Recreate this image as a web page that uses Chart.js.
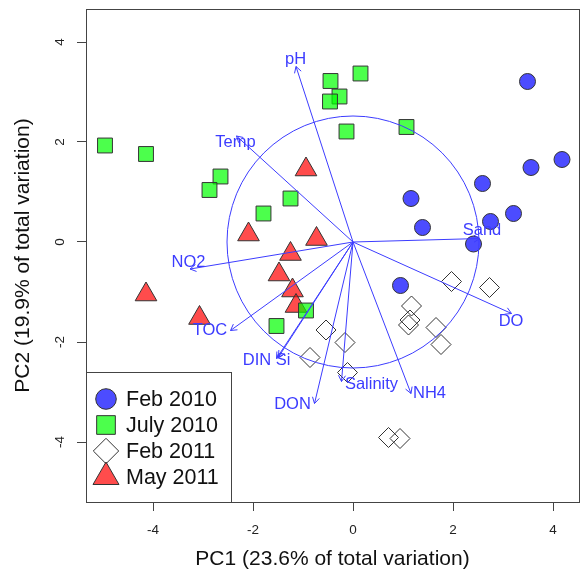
<!DOCTYPE html>
<html>
<head>
<meta charset="utf-8">
<script src="https://cdn.jsdelivr.net/npm/chart.js@4.4.0/dist/chart.umd.min.js"></script>
<style>
  body { margin: 0; background: #fff; }
</style>
</head>
<body>
<canvas id="pcaChart" width="581" height="574"></canvas>
<script>
// site scores on PC1 / PC2 for each sampling campaign
var feb2010 = [[3.49, 3.21], [4.18, 1.65], [3.56, 1.49], [2.59, 1.17], [1.16, 0.87],
               [3.21, 0.57], [2.75, 0.41], [1.39, 0.29], [2.41, -0.04], [0.95, -0.87]];
var july2010 = [[-4.96, 1.93], [-4.14, 1.76], [-0.45, 3.22], [0.15, 3.37], [-0.27, 2.91],
                [-0.46, 2.81], [-0.13, 2.21], [1.07, 2.30], [-2.65, 1.31], [-2.87, 1.04],
                [-1.25, 0.87], [-1.79, 0.57], [-0.94, -1.37], [-1.53, -1.68]];
var feb2011 = [[1.97, -0.79], [2.73, -0.91], [1.17, -1.28], [1.14, -1.56], [1.11, -1.66],
               [1.66, -1.71], [1.76, -2.05], [-0.54, -1.76], [-0.16, -2.01], [-0.86, -2.31],
               [-0.11, -2.61], [0.71, -3.91], [0.94, -3.93]];
var may2011 = [[-0.94, 1.45], [-2.09, 0.15], [-0.73, 0.06], [-1.25, -0.24], [-1.48, -0.65],
               [-1.21, -0.97], [-1.14, -1.28], [-4.14, -1.05], [-3.07, -1.52]];
var seriesNames = ['Feb 2010', 'July 2010', 'Feb 2011', 'May 2011'];

// environmental variable loadings (arrow tips) and where their names sit
var varNames = ['pH', 'Temp', 'Sand', 'NO2', 'TOC', 'DIN', 'Si', 'DON', 'Salinity', 'NH4', 'DO'];
var varTips = [[-1.14, 3.51], [-2.33, 2.12], [2.54, 0.07], [-3.26, -0.54], [-2.45, -1.77],
               [-1.53, -2.33], [-1.49, -2.30], [-0.77, -3.23], [-0.23, -2.79], [1.16, -3.03],
               [3.17, -1.43]];
var varLabelPos = [[-1.15, 3.65], [-2.35, 1.99], [2.58, 0.24], [-3.29, -0.41], [-2.86, -1.76],
                   [-1.92, -2.36], [-1.40, -2.36], [-1.21, -3.24], [0.37, -2.84], [1.53, -3.03],
                   [3.16, -1.59]];
var circleRadius = 2.52;

var tickValues = [-4, -2, 0, 2, 4];

var FONT = '"Liberation Sans", Arial, sans-serif';
var ARROW_BLUE = '#3c3cff';

function toPoints(arr) {
  return arr.map(function (p) { return { x: p[0], y: p[1] }; });
}

var styles = [
  { pointStyle: 'circle',   radius: 8,    legendRadius: 10.3, fill: 'rgba(0,0,255,0.7)' },
  { pointStyle: 'rect',     radius: 10.5, legendRadius: 13.2, fill: 'rgba(0,255,0,0.7)' },
  { pointStyle: 'rectRot',  radius: 10,   legendRadius: 12.7, fill: 'rgba(255,255,255,0)' },
  { pointStyle: 'triangle', radius: 12.5, legendRadius: 15,   fill: 'rgba(255,0,0,0.7)' }
];
var seriesData = [feb2010, july2010, feb2011, may2011];

var datasets = seriesData.map(function (d, i) {
  return {
    label: seriesNames[i],
    data: toPoints(d),
    pointStyle: styles[i].pointStyle,
    pointRadius: styles[i].radius,
    pointHoverRadius: styles[i].radius,
    backgroundColor: styles[i].fill,
    borderColor: '#333',
    borderWidth: 1
  };
});

function drawArrow(ctx, x0, y0, x1, y1) {
  var ang = Math.atan2(y1 - y0, x1 - x0);
  var len = 7;
  ctx.beginPath();
  ctx.moveTo(x0, y0);
  ctx.lineTo(x1, y1);
  ctx.moveTo(x1 - len * Math.cos(ang - Math.PI / 6), y1 - len * Math.sin(ang - Math.PI / 6));
  ctx.lineTo(x1, y1);
  ctx.lineTo(x1 - len * Math.cos(ang + Math.PI / 6), y1 - len * Math.sin(ang + Math.PI / 6));
  ctx.stroke();
}

// fixed axis sizes so the plotting region lands where it should
function fixAxis(size, key) {
  return function (s) {
    s[key] = size;
    s.paddingTop = 0; s.paddingBottom = 0; s.paddingLeft = 0; s.paddingRight = 0;
  };
}

var biplot = {
  id: 'biplot',
  afterDatasetsDraw: function (chart) {
    var ctx = chart.ctx, xs = chart.scales.x, ys = chart.scales.y;
    var ox = xs.getPixelForValue(0), oy = ys.getPixelForValue(0);
    ctx.save();
    ctx.strokeStyle = ARROW_BLUE;
    ctx.lineWidth = 1;
    // equilibrium circle
    var r = xs.getPixelForValue(circleRadius) - ox;
    ctx.beginPath();
    ctx.arc(ox, oy, r, 0, Math.PI * 2);
    ctx.stroke();
    // loadings
    for (var i = 0; i < varTips.length; i++) {
      drawArrow(ctx, ox, oy, xs.getPixelForValue(varTips[i][0]), ys.getPixelForValue(varTips[i][1]));
    }
    ctx.fillStyle = ARROW_BLUE;
    ctx.font = '16.5px ' + FONT;
    ctx.textAlign = 'center';
    ctx.textBaseline = 'middle';
    for (var j = 0; j < varNames.length; j++) {
      ctx.fillText(varNames[j], xs.getPixelForValue(varLabelPos[j][0]), ys.getPixelForValue(varLabelPos[j][1]));
    }
    ctx.restore();
  },
  afterDraw: function (chart) {
    var ctx = chart.ctx, a = chart.chartArea, ys = chart.scales.y;
    ctx.save();
    // y tick labels, written sideways
    ctx.fillStyle = '#222';
    ctx.font = '13.5px ' + FONT;
    ctx.textAlign = 'center';
    ctx.textBaseline = 'middle';
    ys.ticks.forEach(function (t) {
      ctx.save();
      ctx.translate(60, ys.getPixelForValue(t.value));
      ctx.rotate(-Math.PI / 2);
      ctx.fillText(String(t.value), 0, 0);
      ctx.restore();
    });
    // legend box in the lower-left corner
    var lx = a.left, ly = 372, lw = 231 - a.left, lh = a.bottom - ly;
    ctx.fillStyle = '#fff';
    ctx.fillRect(lx, ly, lw, lh);
    ctx.strokeStyle = '#444';
    ctx.lineWidth = 1;
    ctx.strokeRect(lx + 0.5, ly + 0.5, lw, lh);
    ctx.font = '21.5px ' + FONT;
    ctx.textAlign = 'left';
    for (var i = 0; i < seriesNames.length; i++) {
      var cy = 399 + i * 26;
      ctx.fillStyle = styles[i].fill;
      ctx.strokeStyle = '#333';
      Chart.helpers.drawPoint(ctx, {
        pointStyle: styles[i].pointStyle,
        radius: styles[i].legendRadius,
        borderWidth: 1,
        rotation: 0
      }, 106, cy);
      ctx.fillStyle = '#111';
      ctx.fillText(seriesNames[i], 126, cy + 1);
    }
    // frame around the plotting region
    ctx.strokeStyle = '#444';
    ctx.strokeRect(a.left + 0.5, a.top + 0.5, a.right - a.left, a.bottom - a.top);
    ctx.restore();
  }
};

new Chart(document.getElementById('pcaChart'), {
  type: 'scatter',
  data: { datasets: datasets },
  plugins: [biplot],
  options: {
    responsive: false,
    animation: false,
    layout: { autoPadding: false, padding: { top: 9, right: 2, left: 0, bottom: 0 } },
    plugins: { legend: { display: false }, tooltip: { enabled: false } },
    scales: {
      x: {
        type: 'linear',
        min: -5.34,
        max: 4.52,
        afterBuildTicks: function (s) { s.ticks = tickValues.map(function (v) { return { value: v }; }); },
        afterFit: fixAxis(72, 'height'),
        grid: { drawOnChartArea: false, drawTicks: true, tickLength: 9, color: '#444' },
        border: { display: false },
        ticks: { color: '#222', font: { family: FONT, size: 13.5 }, padding: 11, maxRotation: 0 },
        title: { display: true, text: 'PC1 (23.6% of total variation)', color: '#111',
                 font: { family: FONT, size: 21 }, padding: { top: 0, bottom: 2 } }
      },
      y: {
        type: 'linear',
        min: -5.2,
        max: 4.66,
        afterBuildTicks: function (s) { s.ticks = tickValues.map(function (v) { return { value: v }; }); },
        afterFit: fixAxis(86, 'width'),
        grid: { drawOnChartArea: false, drawTicks: true, tickLength: 9, color: '#444' },
        border: { display: false },
        ticks: { display: false },
        title: { display: true, text: 'PC2 (19.9% of total variation)', color: '#111',
                 font: { family: FONT, size: 21 }, padding: { top: 11, bottom: 0 } }
      }
    }
  }
});
</script>
</body>
</html>
